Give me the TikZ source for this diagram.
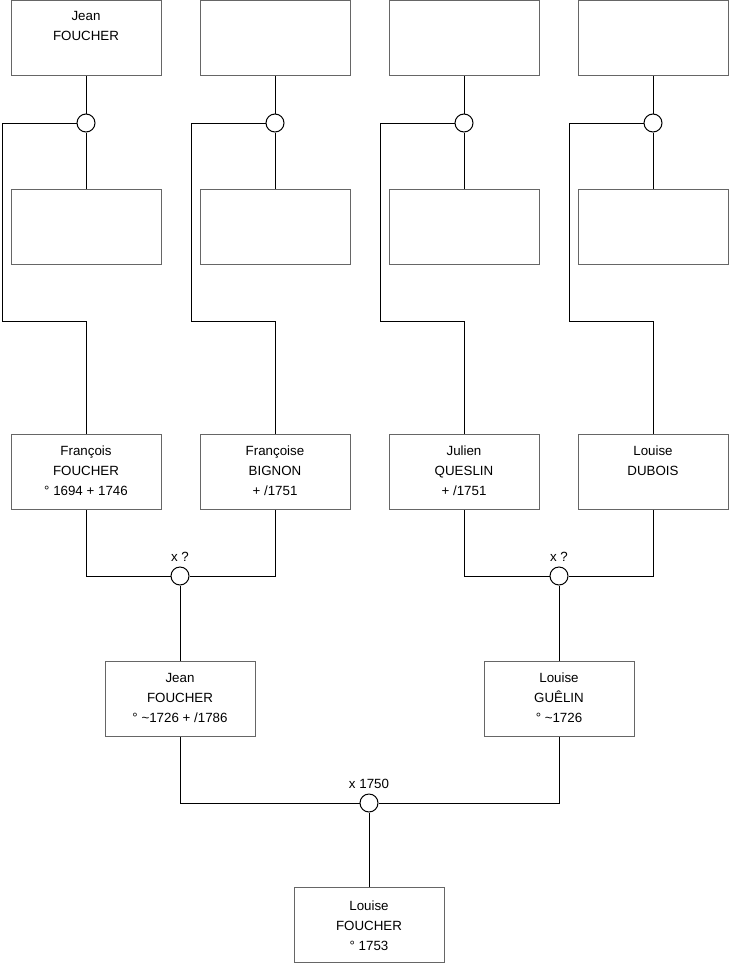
\documentclass[tikz,border=0pt]{standalone}
\usepackage{fontspec}
\setmainfont{Liberation Sans}
\usetikzlibrary{positioning}
\newlength{\du}
\setlength{\du}{0.75pt}
\definecolor{boxcolor}{rgb}{0.400000, 0.400000, 0.400000}
\definecolor{linecolor}{rgb}{0.000000, 0.000000, 0.000000}
\tikzset{
  person/.style={draw=boxcolor, line width=1\du, fill=white, minimum width=150\du, minimum height=75\du, inner sep=0pt},
  persontext/.style={align=center, inner sep=0pt, font=\fontsize{10}{15}\selectfont},
  union/.style={circle, draw=linecolor, line width=1\du, fill=white, minimum size=18\du, inner sep=0pt},
  unionlabel/.style={inner sep=0pt, font=\fontsize{10}{12}\selectfont},
  link/.style={draw=linecolor, line width=1\du},
}
\begin{document}
\begin{tikzpicture}
\useasboundingbox (0,0) rectangle (740\du,-975\du);
% top row
\node[person] (gp1) at (86\du,-38\du) {};
\node[person] (gp2) at (275\du,-38\du) {};
\node[person] (gp3) at (464\du,-38\du) {};
\node[person] (gp4) at (653\du,-38\du) {};
\node[persontext, below=11\du of gp1.north] (gp1t) {Jean\\FOUCHER};
% unions of the top row
\node[union] (u1) at (86\du,-123\du) {};
\node[union] (u2) at (275\du,-123\du) {};
\node[union] (u3) at (464\du,-123\du) {};
\node[union] (u4) at (653\du,-123\du) {};
% second row
\node[person] (gm1) at (86\du,-227\du) {};
\node[person] (gm2) at (275\du,-227\du) {};
\node[person] (gm3) at (464\du,-227\du) {};
\node[person] (gm4) at (653\du,-227\du) {};
% third row
\node[person] (francois) at (86\du,-472\du) {};
\node[person] (francoise) at (275\du,-472\du) {};
\node[person] (julien) at (464\du,-472\du) {};
\node[person] (louiseD) at (653\du,-472\du) {};
\node[persontext, below=12\du of francois.north] (francoist) {François\\FOUCHER\\° 1694 + 1746};
\node[persontext, below=12\du of francoise.north] (francoiset) {Françoise\\BIGNON\\+ /1751};
\node[persontext, below=12\du of julien.north] (julient) {Julien\\QUESLIN\\+ /1751};
\node[persontext, below=12\du of louiseD.north] (louiseDt) {Louise\\DUBOIS};
% corners of the side lines
\coordinate (c1) at (2\du,-321\du);
\coordinate (c2) at (191\du,-321\du);
\coordinate (c3) at (380\du,-321\du);
\coordinate (c4) at (569\du,-321\du);
% unions of the third row
\node[union] (u5) at (180\du,-576\du) {};
\node[union] (u6) at (559\du,-576\du) {};
\node[unionlabel, above=5\du of u5] (u5t) {x ?};
\node[unionlabel, above=5\du of u6] (u6t) {x ?};
% fourth row
\node[person] (jean) at (180\du,-699\du) {};
\node[person] (louiseG) at (559\du,-699\du) {};
\node[persontext, below=12\du of jean.north] (jeant) {Jean\\FOUCHER\\° \textasciitilde1726 + /1786};
\node[persontext, below=12\du of louiseG.north] (louiseGt) {Louise\\GUÊLIN\\° \textasciitilde1726};
% last union
\node[union] (u7) at (369\du,-803\du) {};
\node[unionlabel, above=5\du of u7] (u7t) {x 1750};
\node[person] (louiseF) at (369\du,-925\du) {};
\node[persontext, below=14\du of louiseF.north] (louiseFt) {Louise\\FOUCHER\\° 1753};
% connectors
\foreach \i in {1,...,4} {
  \draw[link] (gp\i) -- (u\i);
  \draw[link] (u\i) -- (gm\i);
}
\draw[link] (u1.west) -| (c1) -| (francois);
\draw[link] (u2.west) -| (c2) -| (francoise);
\draw[link] (u3.west) -| (c3) -| (julien);
\draw[link] (u4.west) -| (c4) -| (louiseD);
\draw[link] (francois) |- (u5.west);
\draw[link] (francoise) |- (u5.east);
\draw[link] (julien) |- (u6.west);
\draw[link] (louiseD) |- (u6.east);
\draw[link] (u5) -- (jean);
\draw[link] (u6) -- (louiseG);
\draw[link] (jean) |- (u7.west);
\draw[link] (louiseG) |- (u7.east);
\draw[link] (u7) -- (louiseF);
\end{tikzpicture}
\end{document}
